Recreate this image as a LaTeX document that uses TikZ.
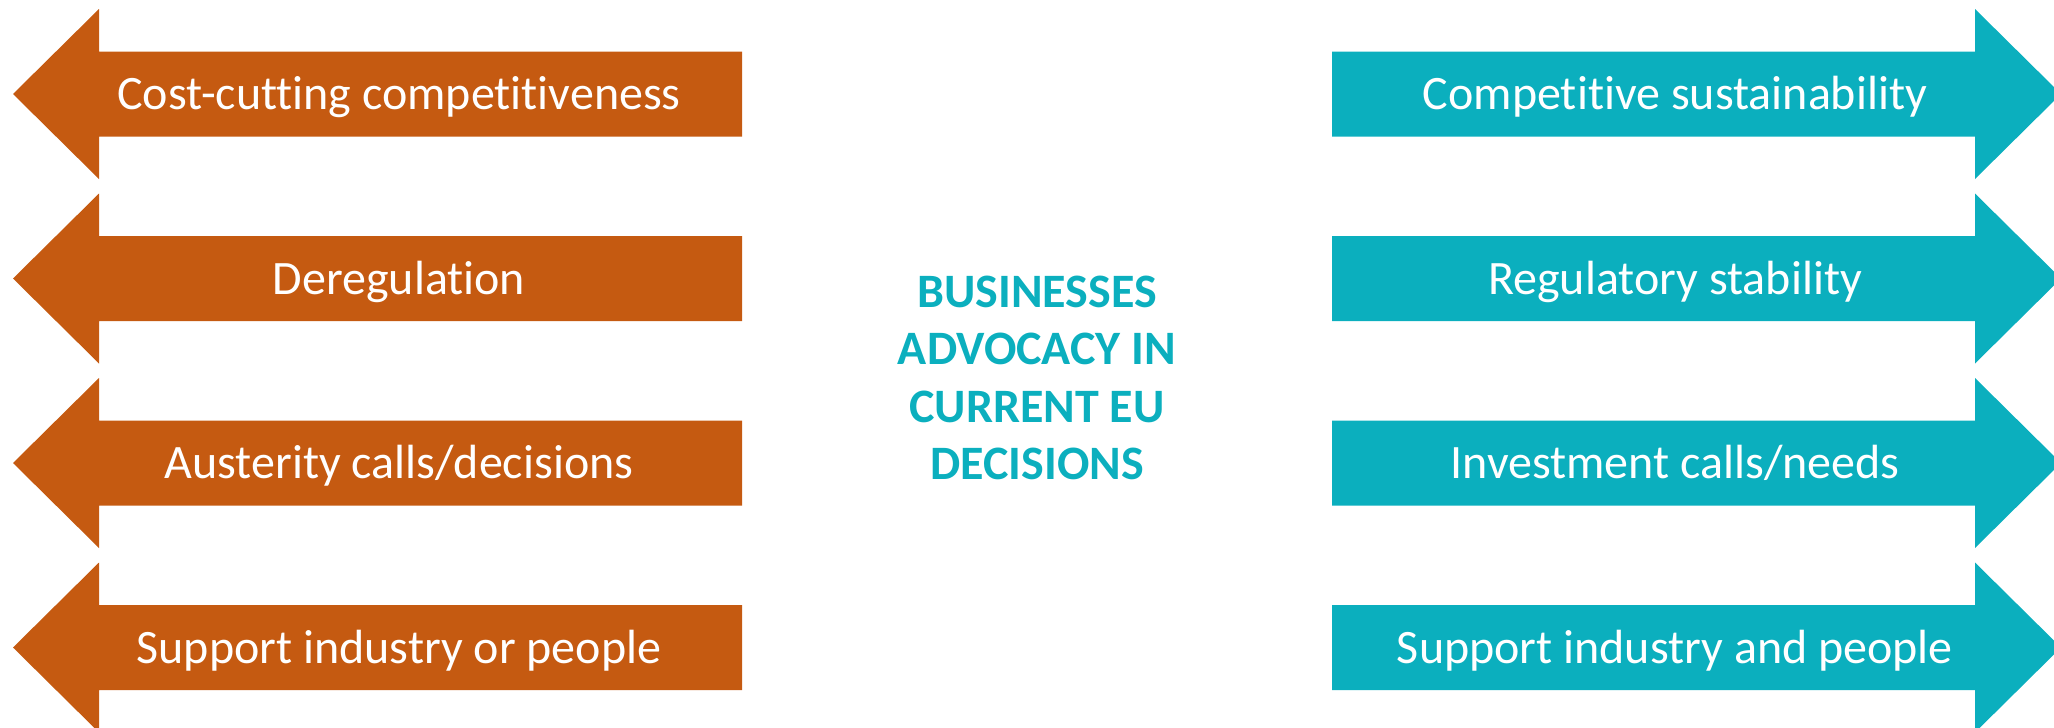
\documentclass[tikz,border=0pt]{standalone}
\usepackage{fontspec}
\setmainfont{Carlito}[Ligatures=NoCommon]
\definecolor{orangeL}{HTML}{C55A11}
\definecolor{tealR}{HTML}{0BAFBE}
\begin{document}
\begin{tikzpicture}[x=1pt,y=-1pt,
  lbl/.style={text=white,font=\fontsize{48}{58}\selectfont,inner sep=0pt,anchor=base},
  ctr/.style={text=tealR,font=\bfseries\fontsize{48}{57.5}\selectfont,align=center,inner sep=0pt,anchor=base},
  larrow/.style={fill=orangeL},
  rarrow/.style={fill=tealR}]
\useasboundingbox (0,0) rectangle (2054,728);
\foreach \c/\lt/\rt [count=\i] in {94/{Cost-cutting competitiveness}/{Competitive sustainability},
  278.5/{Deregulation}/{Regulatory stability},
  463/{Austerity calls/decisions}/{Investment calls/needs},
  647.5/{Support industry or people}/{Support industry and people}}{
  \fill[larrow] (13,\c) -- (99,\c-85) -- (99,\c-42.5) -- (742,\c-42.5) -- (742,\c+42.5) -- (99,\c+42.5) -- (99,\c+85) -- cycle;
  \fill[rarrow] (2061,\c) -- (1975,\c-85) -- (1975,\c-42.5) -- (1332,\c-42.5) -- (1332,\c+42.5) -- (1975,\c+42.5) -- (1975,\c+85) -- cycle;
  \node[lbl] (l\i) at (399,\c+15.5) {\lt};
  \node[lbl] (r\i) at (1675,\c+15.5) {\rt};
}
\node[ctr] (title) at (1037,479.5) {BUSINESSES\\ADVOCACY IN\\CURRENT EU\\DECISIONS};
\end{tikzpicture}
\end{document}
